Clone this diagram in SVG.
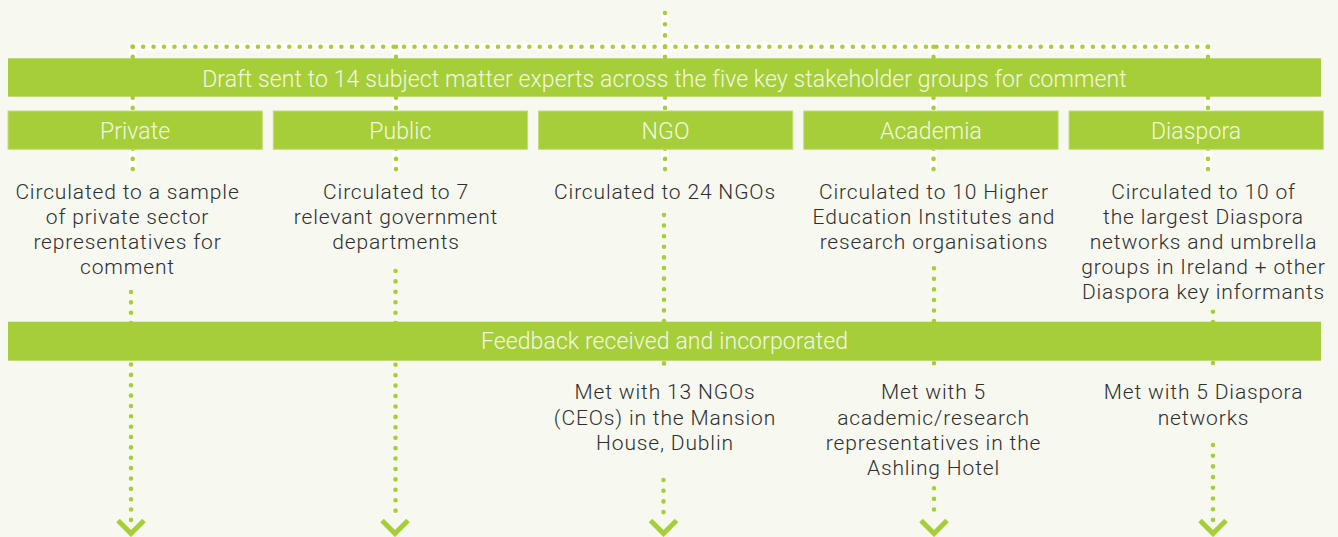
<svg xmlns="http://www.w3.org/2000/svg" width="1338" height="537" viewBox="0 0 1338 537">
<style>
.bg{fill:#f7f9f1}
.bar{fill:#a6ce39}
.box{fill:#a6ce39;stroke:#c2dd79;stroke-width:1}
.wt{font-family:Roboto,"Liberation Sans",sans-serif;font-weight:300;fill:#f2f7e2;text-anchor:middle;font-size:23px;letter-spacing:0.1px}
.dt{font-family:Roboto,"Liberation Sans",sans-serif;font-weight:300;fill:#2e2e2e;text-anchor:middle;font-size:21px;letter-spacing:0.85px}
.dot{fill:none;stroke:#a6ce39;stroke-width:4.6;stroke-linecap:round}
.under{fill:none;stroke:#ffffff;stroke-width:7}
.chev{fill:none;stroke:#a6ce39;stroke-width:5;stroke-linejoin:miter}
</style>
<rect class="bg" x="0" y="0" width="1338" height="537"/>
<g id="connectors">
  <path class="under" d="M665 13 V47 M132.7 46.7 H1208 M132.7 46.7 V170 M396 46.7 V170 M665 46.7 V170 M933.5 46.7 V170 M1208 46.7 V170"/>
  <path class="dot" stroke-dasharray="0 11.2" d="M665 13 V46.7"/>
  <path class="dot" stroke-dasharray="0 10.437" d="M132.7 46.7 H1208"/>
  <path class="dot" stroke-dasharray="0 10.2" d="M132.7 46.7 V169.1 M396 46.7 V169.1 M665 46.7 V169.1 M933.5 46.7 V169.1 M1208 46.7 V169.1"/>
  <path class="dot" stroke-dasharray="0 10.36" d="M131 292 V520"/>
  <path class="dot" stroke-dasharray="0 10.42" d="M395.5 271 V521"/>
  <path class="dot" stroke-dasharray="0 10.6" d="M664 215 V374"/>
  <path class="dot" stroke-dasharray="0 10.7" d="M663.5 480 V522.8"/>
  <path class="dot" stroke-dasharray="0 10.55" d="M934 268.3 V373.8"/>
  <path class="dot" stroke-dasharray="0 10.6" d="M934 488.3 V520"/>
  <path class="dot" stroke-dasharray="0 10.27" d="M1213 311.7 V373.3"/>
  <path class="dot" stroke-dasharray="0 10.7" d="M1213 445 V520.9"/>
  <path class="chev" d="M118 520.5 L131 533.5 L144 520.5"/>
  <path class="chev" d="M382 520.5 L395 533.5 L408 520.5"/>
  <path class="chev" d="M650.5 520.5 L663.5 533.5 L676.5 520.5"/>
  <path class="chev" d="M921 520.5 L934 533.5 L947 520.5"/>
  <path class="chev" d="M1200 520.5 L1213 533.5 L1226 520.5"/>
</g>
<g id="draft">
  <rect class="bar" x="8" y="58.3" width="1313" height="38.4"/>
  <text class="wt" x="664.5" y="87.3">Draft sent to 14 subject matter experts across the five key stakeholder groups for comment</text>
</g>
<g id="private">
  <rect class="box" x="8" y="111" width="254.3" height="38.3"/>
  <text class="wt" x="135.1" y="139">Private</text>
  <text class="dt" x="127.5" y="198.5">Circulated to a sample<tspan x="127.5" dy="25.3">of private sector</tspan><tspan x="127.5" dy="25.3">representatives for</tspan><tspan x="127.5" dy="25.3">comment</tspan></text>
</g>
<g id="public">
  <rect class="box" x="273.3" y="111" width="254.3" height="38.3"/>
  <text class="wt" x="400.4" y="139">Public</text>
  <text class="dt" x="396" y="198.5">Circulated to 7<tspan x="396" dy="25.3">relevant government</tspan><tspan x="396" dy="25.3">departments</tspan></text>
</g>
<g id="ngo">
  <rect class="box" x="538.5" y="111" width="254.3" height="38.3"/>
  <text class="wt" x="665.6" y="139">NGO</text>
  <text class="dt" x="665" y="198.5">Circulated to 24 NGOs</text>
  <text class="dt" x="665" y="399.3">Met with 13 NGOs<tspan x="665" dy="25.3">(CEOs) in the Mansion</tspan><tspan x="665" dy="25.3">House, Dublin</tspan></text>
</g>
<g id="academia">
  <rect class="box" x="803.8" y="111" width="254.3" height="38.3"/>
  <text class="wt" x="930.9" y="139">Academia</text>
  <text class="dt" x="934" y="198.5">Circulated to 10 Higher<tspan x="934" dy="25.3">Education Institutes and</tspan><tspan x="934" dy="25.3">research organisations</tspan></text>
  <text class="dt" x="933.5" y="399.3">Met with 5<tspan x="933.5" dy="25.3">academic/research</tspan><tspan x="933.5" dy="25.3">representatives in the</tspan><tspan x="933.5" dy="25.3">Ashling Hotel</tspan></text>
</g>
<g id="diaspora">
  <rect class="box" x="1069" y="111" width="254.3" height="38.3"/>
  <text class="wt" x="1196.1" y="139">Diaspora</text>
  <text class="dt" x="1203.5" y="198.5">Circulated to 10 of<tspan x="1203.5" dy="25.2">the largest Diaspora</tspan><tspan x="1203.5" dy="25.2">networks and umbrella</tspan><tspan x="1203.5" dy="25.2">groups in Ireland + other</tspan><tspan x="1203.5" dy="25.2">Diaspora key informants</tspan></text>
  <text class="dt" x="1203.5" y="399.3">Met with 5 Diaspora<tspan x="1203.5" dy="25.3">networks</tspan></text>
</g>
<g id="feedback">
  <rect class="bar" x="8" y="321.7" width="1313" height="39"/>
  <text class="wt" x="664.5" y="349.3">Feedback received and incorporated</text>
</g>
</svg>
